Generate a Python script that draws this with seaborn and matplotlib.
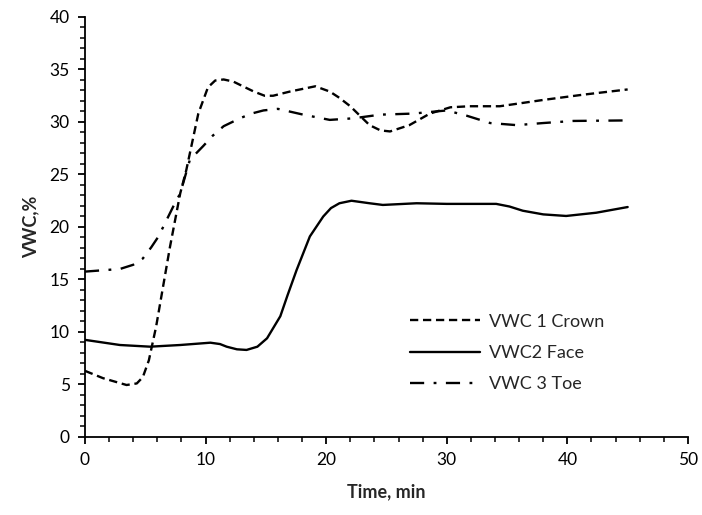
import matplotlib
matplotlib.use("Agg")
import matplotlib.pyplot as plt
from matplotlib.ticker import MultipleLocator
import seaborn as sns
import pandas as pd

# values (time in min, VWC in %)
crown_t = [0, 1.5, 3.45, 4.3, 4.8, 5.3, 5.9, 7.05, 7.9, 8.4, 9.4, 10.2, 10.8, 11.5, 12.3, 13.1, 14.0,
           14.9, 15.6, 17.0, 19.1, 20.3, 21.1, 22.0, 23.6, 24.5, 25.3, 26.9, 28.6, 30.3, 31.9, 34.4,
           38.0, 41.3, 45.0]
crown_v = [6.3, 5.6, 4.95, 5.1, 5.7, 7.3, 10.5, 18.1, 23.2, 25.4, 30.8, 33.3, 33.95, 34.05, 33.85, 33.4,
           32.9, 32.5, 32.5, 32.9, 33.4, 32.9, 32.3, 31.5, 29.7, 29.2, 29.1, 29.7, 30.8, 31.4, 31.5,
           31.5, 32.1, 32.6, 33.1]

face_t = [0, 2.9, 5.4, 7.9, 10.4, 11.2, 11.75, 12.6, 13.4, 14.3, 15.1, 16.2, 16.8, 17.55, 18.65,
          19.76, 20.4, 21.1, 22.1, 23.6, 24.7, 27.5, 30.0, 34.1, 35.2, 36.3, 38.0, 39.9, 42.4, 45.0]
face_v = [9.25, 8.76, 8.6, 8.76, 8.98, 8.85, 8.6, 8.35, 8.29, 8.6, 9.4, 11.5, 13.5, 15.9, 19.1,
          21.0, 21.8, 22.26, 22.5, 22.26, 22.1, 22.26, 22.2, 22.2, 21.95, 21.55, 21.2, 21.05, 21.36, 21.9]

toe_t = [0, 2.9, 4.0, 4.8, 5.5, 6.1, 6.7, 7.3, 7.9, 8.7, 9.8, 10.6, 11.5, 12.85, 13.8, 14.8, 16.0,
         18.1, 20.3, 22.25, 24.5, 27.2, 30.0, 31.65, 33.6, 35.8, 38.0, 40.5, 45.0]
toe_v = [15.75, 16.0, 16.4, 17.0, 18.07, 19.1, 20.5, 21.9, 23.2, 26.4, 27.7, 28.7, 29.6, 30.35, 30.8,
         31.1, 31.25, 30.7, 30.2, 30.35, 30.7, 30.8, 31.1, 30.6, 29.9, 29.7, 29.9, 30.1, 30.15]

sns.set_style("ticks")
plt.rcParams['font.family'] = ['Lato', 'DejaVu Sans']

crown = pd.DataFrame({"t": crown_t, "v": crown_v})
face = pd.DataFrame({"t": face_t, "v": face_v})
toe = pd.DataFrame({"t": toe_t, "v": toe_v})

fig = plt.figure(figsize=(7.02, 5.15), dpi=100)
ax = fig.add_axes([0.121, 0.1515, 0.859, 0.8155])

sns.lineplot(data=crown, x="t", y="v", ax=ax, color="black", lw=1.7, sort=False,
             label="VWC 1 Crown")
sns.lineplot(data=face, x="t", y="v", ax=ax, color="black", lw=1.7, sort=False,
             label="VWC2 Face")
sns.lineplot(data=toe, x="t", y="v", ax=ax, color="black", lw=1.7, sort=False,
             label="VWC 3 Toe")
ax.lines[0].set_dashes([3.5, 2])
ax.lines[2].set_dashes([6, 4, 1.2, 4])
for ln in ax.lines:
    ln.set_solid_joinstyle("round")
    ln.set_dash_joinstyle("round")

ax.set_xlim(0, 50)
ax.set_ylim(0, 40)
ax.xaxis.set_major_locator(MultipleLocator(10))
ax.xaxis.set_minor_locator(MultipleLocator(2))
ax.yaxis.set_major_locator(MultipleLocator(5))
ax.yaxis.set_minor_locator(MultipleLocator(1))
ax.tick_params(which="major", direction="out", length=5, width=1.3, labelsize=12.5,
               colors="black", pad=6)
ax.tick_params(which="minor", direction="out", length=3.5, width=1.3)
for s in ["top", "right"]:
    ax.spines[s].set_visible(False)
for s in ["left", "bottom"]:
    ax.spines[s].set_linewidth(1.3)
    ax.spines[s].set_color("black")

ax.set_xlabel("Time, min", fontsize=13, fontweight="bold", labelpad=11)
ax.set_ylabel("VWC,%", fontsize=13, fontweight="bold", labelpad=7)

leg = ax.legend(loc="center", bbox_to_anchor=(0.70, 0.2), frameon=False, fontsize=13,
                handlelength=3.9, labelspacing=0.85, handletextpad=0.5)

fig.savefig("out.png", dpi=100)
